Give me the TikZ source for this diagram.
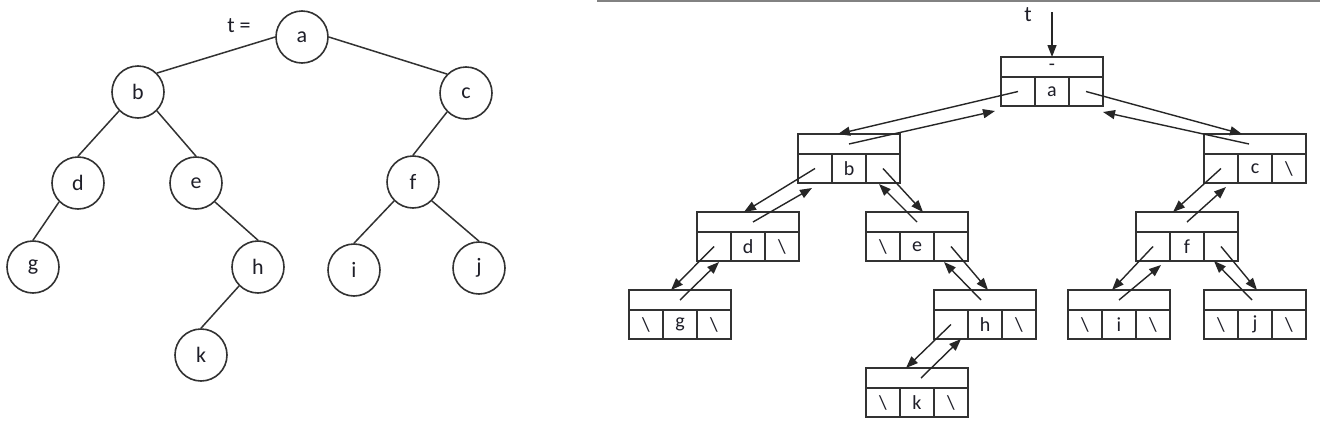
\documentclass[tikz,border=0pt]{standalone}
\usepackage{fontspec}
\setmainfont{Carlito}
\usetikzlibrary{arrows.meta,calc}
\definecolor{linecol}{RGB}{50,50,50}
\definecolor{txtcol}{RGB}{30,30,40}
\definecolor{rulecol}{RGB}{130,130,130}
\tikzset{
  tnode/.style={circle,draw=linecol,line width=1.6pt,minimum size=52pt,inner sep=0pt,
    font=\fontsize{22}{22}\selectfont,text=txtcol},
  tedge/.style={draw=linecol,line width=1.5pt},
  topcell/.style={rectangle,draw=linecol,line width=1.7pt,minimum width=102pt,minimum height=20pt,
    inner sep=0pt,outer sep=0pt,font=\fontsize{20}{20}\selectfont,text=txtcol},
  botcell/.style={rectangle,draw=linecol,line width=1.7pt,minimum width=34pt,minimum height=29pt,
    inner sep=0pt,outer sep=0pt,font=\fontsize{20}{20}\selectfont,text=txtcol},
  ptr/.style={draw=black!85,line width=1.4pt,-{Triangle[length=12pt,width=9pt]}},
  lbl/.style={font=\fontsize{22}{22}\selectfont,text=txtcol,inner sep=0pt}
}
\newcommand\mkrec[7]{%
  \node[topcell,anchor=north west] (#1-top) at (#2,#3) {#7};
  \node[botcell,anchor=north west] (#1-l) at (#2,#3+20) {#4};
  \node[botcell,anchor=north west] (#1-m) at (#2+34,#3+20) {#5};
  \node[botcell,anchor=north west] (#1-r) at (#2+68,#3+20) {#6};
}
\begin{document}
\begin{tikzpicture}[x=1pt,y=-1pt]
\useasboundingbox (0,0) rectangle (1320,426);
\fill[white] (0,0) rectangle (1320,426);
% top rule
\coordinate (ruleL) at (597,1);
\coordinate (ruleR) at (1320,1);
\draw[rulecol,line width=1.6pt] (ruleL) -- (ruleR);

% ---------- left tree ----------
\node[lbl] (tlabel) at (239,26) {t =};
\node[tnode] (a) at (302,37) {a};
\node[tnode] (b) at (138,92) {b};
\node[tnode] (c) at (466,93) {c};
\node[tnode] (d) at (78,183) {d};
\node[tnode] (e) at (196,183) {e};
\node[tnode] (f) at (413,182) {f};
\node[tnode] (g) at (33,267) {g};
\node[tnode] (h) at (258,267) {h};
\node[tnode] (i) at (354,270) {i};
\node[tnode] (j) at (479,268) {j};
\node[tnode] (k) at (201,355) {k};
\draw[tedge] (a.west) -- (b.north east);
\draw[tedge] (a.east) -- (c.north west);
\draw[tedge] (b.south west) -- (d.north);
\draw[tedge] (b.south east) -- (e.north);
\draw[tedge] (d.south west) -- (g.north);
\draw[tedge] (e.south east) -- (h.north);
\draw[tedge] (h.south west) -- (k.north);
\draw[tedge] (c.south west) -- (f.north);
\draw[tedge] (f.south west) -- (i.north);
\draw[tedge] (f.south east) -- (j.north);

% ---------- right linked structure ----------
\mkrec{Ra}{1001}{57}{}{a}{}{-}
\mkrec{Rb}{798}{134}{}{b}{}{}
\mkrec{Rc}{1204}{134}{}{c}{\textbackslash}{}
\mkrec{Rd}{697}{212}{}{d}{\textbackslash}{}
\mkrec{Re}{866}{212}{\textbackslash}{e}{}{}
\mkrec{Rf}{1136}{212}{}{f}{}{}
\mkrec{Rg}{629}{290}{\textbackslash}{g}{\textbackslash}{}
\mkrec{Rh}{934}{290}{}{h}{\textbackslash}{}
\mkrec{Ri}{1068}{290}{\textbackslash}{i}{\textbackslash}{}
\mkrec{Rj}{1204}{290}{\textbackslash}{j}{\textbackslash}{}
\mkrec{Rk}{866}{368}{\textbackslash}{k}{\textbackslash}{}

\node[lbl] (tR) at (1028,15) {t};
\coordinate (tstart) at (1052,12);
\draw[ptr] (tstart) -- (Ra-top.north);

% a <-> b
\draw[ptr] (Ra-l.center) -- ([xshift=40pt]Rb-top.north west);
\draw[ptr] (Rb-top.center) -- ([shift={(-6pt,-5pt)}]Ra-l.south west);
% a <-> c
\draw[ptr] (Ra-r.center) -- ([xshift=38pt]Rc-top.north west);
\draw[ptr] ([xshift=-6pt]Rc-top.center) -- ([shift={(0pt,-6pt)}]Ra-r.south east);
% b <-> d
\draw[ptr] (Rb-l.center) -- ([xshift=47pt]Rd-top.north west);
\draw[ptr] ([xshift=5pt]Rd-top.center) -- ([shift={(-20pt,-5pt)}]Rb-l.south east);
% b <-> e
\draw[ptr] (Rb-r.center) -- ([xshift=57pt]Re-top.north west);
\draw[ptr] (Re-top.center) -- ([shift={(13pt,-1pt)}]Rb-r.south west);
% d <-> g
\draw[ptr] (Rd-l.center) -- ([xshift=42pt]Rg-top.north west);
\draw[ptr] (Rg-top.center) -- ([shift={(-12pt,-1pt)}]Rd-l.south east);
% e <-> h
\draw[ptr] (Re-r.center) -- ([xshift=54pt]Rh-top.north west);
\draw[ptr] ([xshift=-4pt]Rh-top.center) -- ([shift={(10pt,-1pt)}]Re-r.south west);
% h <-> k
\draw[ptr] (Rh-l.center) -- ([xshift=40pt]Rk-top.north west);
\draw[ptr] ([xshift=4pt]Rk-top.center) -- ([shift={(-7pt,0pt)}]Rh-l.south east);
% c <-> f
\draw[ptr] (Rc-l.center) -- ([xshift=37pt]Rf-top.north west);
\draw[ptr] (Rf-top.center) -- ([shift={(-12pt,-4pt)}]Rc-l.south east);
% f <-> i
\draw[ptr] (Rf-l.center) -- ([xshift=44pt]Ri-top.north west);
\draw[ptr] (Ri-top.center) -- ([shift={(-9pt,-4pt)}]Rf-l.south east);
% f <-> j
\draw[ptr] (Rf-r.center) -- ([xshift=53pt]Rj-top.north west);
\draw[ptr] ([xshift=-3pt]Rj-top.center) -- ([shift={(10pt,0pt)}]Rf-r.south west);
\end{tikzpicture}
\end{document}
